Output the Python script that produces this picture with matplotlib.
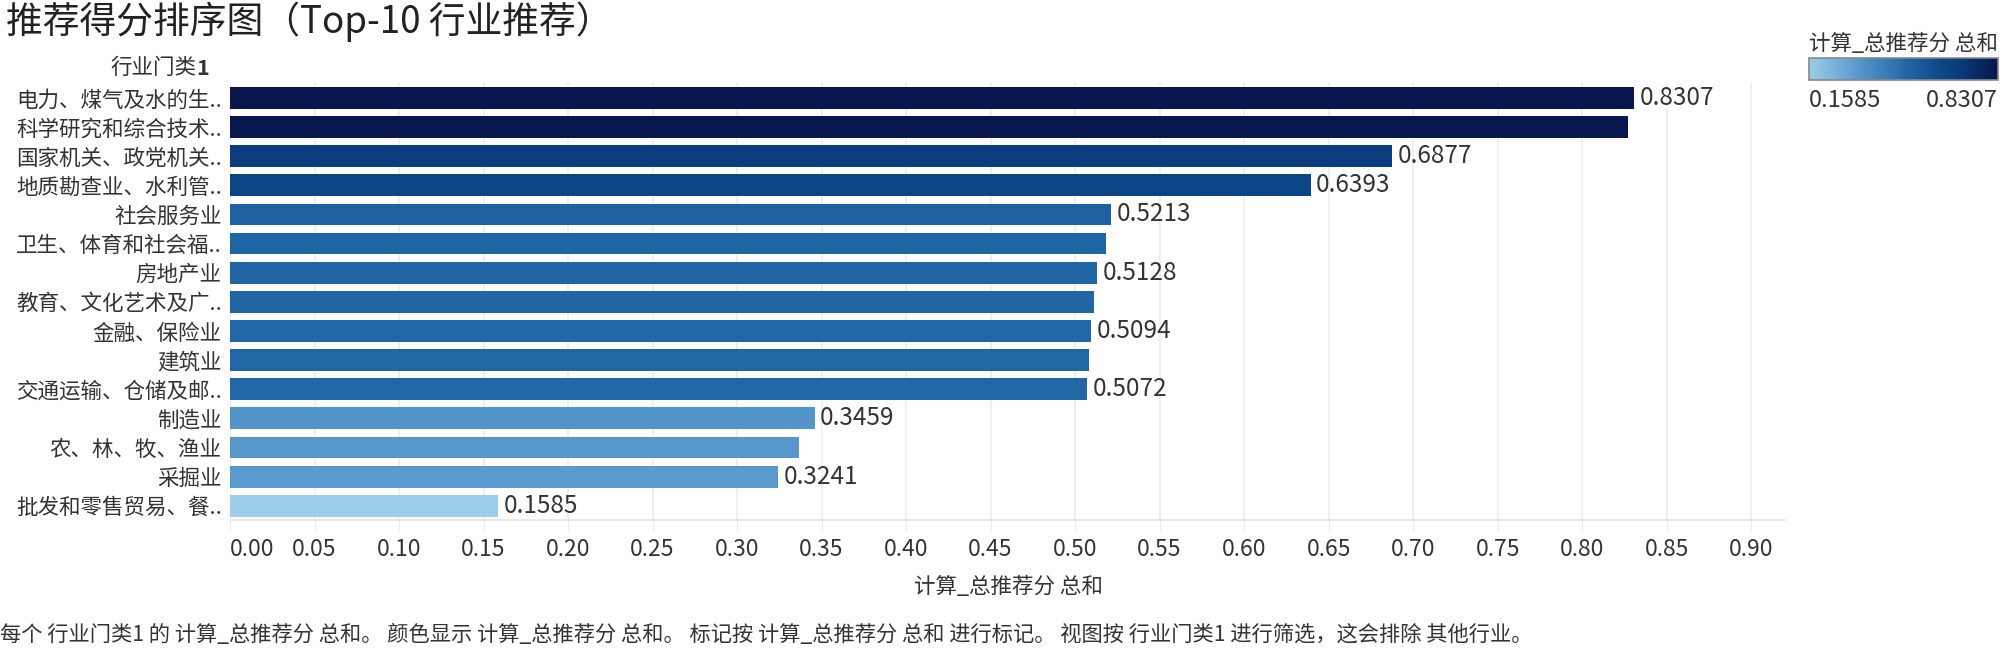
''' recommendation score ranking bar chart '''
import matplotlib
matplotlib.use('Agg')
import matplotlib.pyplot as plt
from matplotlib.colors import LinearSegmentedColormap, Normalize
from matplotlib.colorbar import ColorbarBase
import numpy as np

plt.rcParams['font.family'] = ['Noto Sans CJK SC', 'DejaVu Sans']
plt.rcParams['font.weight'] = 'light'

categories = ['电力、煤气及水的生..', '科学研究和综合技术..', '国家机关、政党机关..',
              '地质勘查业、水利管..', '社会服务业', '卫生、体育和社会福..', '房地产业',
              '教育、文化艺术及广..', '金融、保险业', '建筑业', '交通运输、仓储及邮..',
              '制造业', '农、林、牧、渔业', '采掘业', '批发和零售贸易、餐..']
values = [0.8307, 0.8269, 0.6877, 0.6393, 0.5213, 0.5180, 0.5128,
          0.5110, 0.5094, 0.5080, 0.5072, 0.3459, 0.3364, 0.3241, 0.1585]
# tableau hides overlapping marks, only these got a label
show_label = [1, 0, 1, 1, 1, 0, 1, 0, 1, 0, 1, 1, 0, 1, 1]
xticks = [0.00, 0.05, 0.10, 0.15, 0.20, 0.25, 0.30, 0.35, 0.40, 0.45,
          0.50, 0.55, 0.60, 0.65, 0.70, 0.75, 0.80, 0.85, 0.90]

title = '推荐得分排序图（Top-10 行业推荐）'
row_header = '行业门类'
measure = '计算_总推荐分 总和'
footer = ('每个 行业门类1 的 计算_总推荐分 总和。 颜色显示 计算_总推荐分 总和。 '
          '标记按 计算_总推荐分 总和 进行标记。 视图按 行业门类1 进行筛选，这会排除 其他行业。')

vmin, vmax = min(values), max(values)
cmap = LinearSegmentedColormap.from_list('score', [
    (0.0, '#9ccdea'),
    (0.2464, '#5a9bcf'),
    (0.5187, '#2166a5'),
    (0.7153, '#0c4585'),
    (0.7873, '#0b3d7e'),
    (1.0, '#08164d'),
])
norm = Normalize(vmin=vmin, vmax=vmax)

text_col = '#333333'
grid_col = '#ececec'

fig = plt.figure(figsize=(20, 6.48), dpi=100)
ax = fig.add_axes([0.115, 0.197, 0.7775, 0.6744])

y = np.arange(len(categories))
ax.barh(y, values, height=0.75, color=cmap(norm(np.array(values))), zorder=2)
ax.set_ylim(len(categories) - 0.5, -0.5)
ax.set_xlim(0, 0.92)

for i, (v, s) in enumerate(zip(values, show_label)):
    if s:
        ax.annotate('%.4f' % v, (v, i), xytext=(4, 0), textcoords='offset points',
                    va='center', ha='left', fontsize=17.5, color=text_col)

ax.set_yticks(y)
ax.set_yticklabels(categories, fontsize=15.5, color=text_col)
ax.tick_params(axis='y', length=0, pad=6)

ax.set_xticks(xticks)
ax.set_xticklabels(['%.2f' % t for t in xticks], fontsize=16.5, color=text_col)
ax.get_xticklabels()[0].set_horizontalalignment('left')
ax.tick_params(axis='x', length=7, color=grid_col, pad=6)
ax.xaxis.grid(True, color=grid_col, linewidth=1.2, zorder=0)
ax.set_axisbelow(True)

for side in ['top', 'right', 'left']:
    ax.spines[side].set_visible(False)
ax.spines['bottom'].set_color('#e4e4e4')
ax.spines['bottom'].set_linewidth(1.2)

fig.text(0.003, 0.966, title, fontsize=26.5, color='#222222', va='center', ha='left')
hdr = fig.text(0.098, 0.895, row_header, fontsize=15.5, color=text_col, va='center', ha='right')
fig.text(0.098, 0.895, '1', fontsize=15.5, fontweight='bold', color=text_col,
         va='center', ha='left')
fig.text(0.504, 0.094, measure, fontsize=15.5, color=text_col, va='center', ha='center')
fig.text(0.0, 0.02, footer, fontsize=15.3, color=text_col, va='center', ha='left')

# colour legend
fig.text(0.9045, 0.932, measure, fontsize=15.5, color=text_col, va='center', ha='left')
cax = fig.add_axes([0.9045, 0.877, 0.0945, 0.034])
cb = ColorbarBase(cax, cmap=cmap, norm=norm, orientation='horizontal')
cb.set_ticks([])
cb.outline.set_edgecolor('#888888')
cb.outline.set_linewidth(1.2)
fig.text(0.9045, 0.845, '%.4f' % vmin, fontsize=17, color=text_col, va='center', ha='left')
fig.text(0.999, 0.845, '%.4f' % vmax, fontsize=17, color=text_col, va='center', ha='right')

fig.savefig('out.png', dpi=100)
